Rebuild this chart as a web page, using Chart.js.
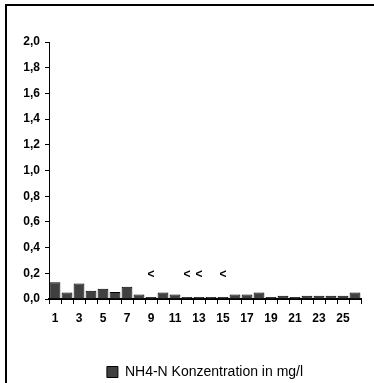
<!DOCTYPE html>
<html>
<head>
<meta charset="utf-8">
<script src="https://cdn.jsdelivr.net/npm/chart.js@4"></script>
<style>
  html, body { margin: 0; padding: 0; background: #fff; overflow: hidden; width: 374px; height: 383px; }
  #frame { position: absolute; left: 5px; top: 4px; width: 440px; height: 400px;
           border-top: 2px solid #000; border-left: 2px solid #000; }
  #wrap { position: absolute; left: 0; top: 0; width: 432px; height: 385px; }
</style>
</head>
<body>
<div id="frame"><div id="wrap"><canvas id="mycanvas"></canvas></div></div>
<script>
var labels = ['1','2','3','4','5','6','7','8','9','10','11','12','13','14','15','16','17','18','19','20','21','22','23','24','25','26'];
var nh4 = [0.13, 0.05, 0.12, 0.065, 0.08, 0.055, 0.095, 0.035, 0.015, 0.05, 0.035, 0.015, 0.015,
           0.015, 0.015, 0.035, 0.035, 0.05, 0.015, 0.025, 0.015, 0.025, 0.025, 0.025, 0.025, 0.05];
// Tage mit Wert unter Bestimmungsgrenze
var belowLimit = ['9', '12', '13', '15'];
var belowLimitLevel = 0.2;

var fontFam = "Arial, 'Liberation Sans', sans-serif";

var lessThanPlugin = {
  id: 'lessThan',
  afterDatasetsDraw: function(chart) {
    var ctx = chart.ctx;
    var x = chart.scales.x, y = chart.scales.y;
    ctx.save();
    ctx.fillStyle = '#000';
    ctx.font = 'bold 12px ' + fontFam;
    ctx.textAlign = 'center';
    ctx.textBaseline = 'middle';
    for (var i in belowLimit) {
      var idx = labels.indexOf(belowLimit[i]);
      ctx.fillText('<', x.getPixelForValue(idx), y.getPixelForValue(belowLimitLevel) + 1);
    }
    ctx.restore();
  }
};

var chartdata = {
  labels: labels,
  datasets: [
    {
      label: 'NH4-N Konzentration in mg/l',
      backgroundColor: '#404040',
      borderColor: '#000000',
      borderWidth: 1,
      barPercentage: 0.9,
      categoryPercentage: 1.0,
      data: nh4
    }
  ]
};

var ctx = document.getElementById('mycanvas');
var BarGraph = new Chart(ctx, {
  type: 'bar',
  data: chartdata,
  plugins: [lessThanPlugin],
  options: {
    responsive: true,
    maintainAspectRatio: false,
    animation: false,
    layout: { padding: { left: 0, top: 36, right: 78, bottom: 2 } },
    plugins: {
      tooltip: { enabled: false },
      legend: {
        position: 'bottom',
        fullSize: false,
        labels: {
          color: '#000',
          font: { family: fontFam, size: 14 },
          boxWidth: 11,
          boxHeight: 11,
          padding: 4
        }
      }
    },
    scales: {
      x: {
        afterFit: function(scale) { scale.height = 62; },
        border: { color: '#000', width: 2 },
        grid: { display: true, drawOnChartArea: false, color: '#000', tickLength: 5, offset: true },
        ticks: {
          autoSkip: false,
          maxRotation: 0,
          color: '#000',
          padding: 7,
          font: { family: fontFam, size: 12, weight: 'bold' },
          callback: function(v, i) { return i % 2 === 0 ? labels[i] : ''; }
        }
      },
      y: {
        min: 0,
        max: 2,
        afterFit: function(scale) { scale.width = 42; },
        border: { color: '#000', width: 1 },
        grid: { display: true, drawOnChartArea: false, color: '#000', tickLength: 4 },
        ticks: {
          stepSize: 0.2,
          color: '#000',
          padding: 5,
          font: { family: fontFam, size: 12, weight: 'bold' },
          callback: function(v) { return v.toFixed(1).replace('.', ','); }
        }
      }
    }
  }
});
</script>
</body>
</html>
